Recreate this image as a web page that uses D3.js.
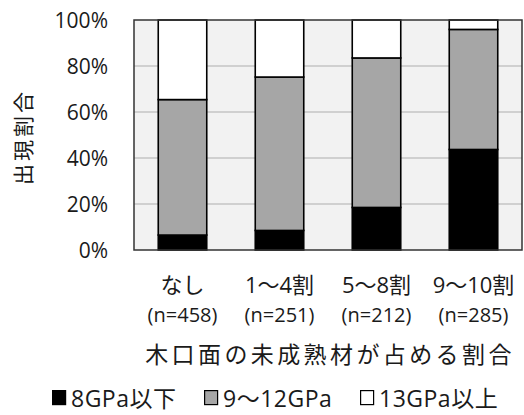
<!DOCTYPE html>
<html>
<head>
<meta charset="utf-8">
<script src="https://cdn.jsdelivr.net/npm/d3@7"></script>
<style>
  html, body { margin: 0; padding: 0; background: #fff; }
  svg { display: block; }
  text { font-family: "Open Sans", "Noto Sans CJK JP", sans-serif; fill: #1a1a1a; }
</style>
</head>
<body>
<svg id="chart" width="524" height="415"></svg>
<script>
// Share (%) of each stiffness class by proportion of juvenile wood on the end face
const categories = ["なし", "1～4割", "5～8割", "9～10割"];
const sampleSizes = ["(n=458)", "(n=251)", "(n=212)", "(n=285)"];
const seriesNames = ["8GPa以下", "9～12GPa", "13GPa以上"];
const below8 = [6.5, 8.5, 18.5, 43.7];
const from9to12 = [58.9, 66.7, 65.0, 52.2];
const above13 = [34.6, 24.8, 16.5, 4.1];
const yTicks = [0, 20, 40, 60, 80, 100];

const colors = ["#000000", "#a6a6a6", "#ffffff"];

const svg = d3.select("#chart");
const margin = { left: 134, right: 2, top: 20, bottom: 165 };
const W = 524, H = 415;
const plotW = W - margin.left - margin.right;
const plotH = H - margin.top - margin.bottom;

const x = d3.scaleBand().domain(categories).range([0, plotW]).paddingInner(0.5).paddingOuter(0.25);
const y = d3.scaleLinear().domain([0, 100]).range([plotH, 0]);

const rows = categories.map((c, i) => ({
  cat: c, s0: below8[i], s1: from9to12[i], s2: above13[i]
}));
const stack = d3.stack().keys(["s0", "s1", "s2"])(rows);

const g = svg.append("g").attr("transform", `translate(${margin.left},${margin.top})`);

// plot background
g.append("rect").attr("x", 0).attr("y", 0).attr("width", plotW).attr("height", plotH)
  .attr("fill", "#f2f2f2");

// horizontal gridlines
g.append("g").selectAll("line").data(yTicks.filter(t => t > 0 && t < 100)).join("line")
  .attr("x1", 0).attr("x2", plotW)
  .attr("y1", d => y(d)).attr("y2", d => y(d))
  .attr("stroke", "#c4c4c4").attr("stroke-width", 1.5);

// stacked bars
g.append("g").selectAll("g").data(stack).join("g")
  .attr("fill", (d, i) => colors[i])
  .selectAll("rect").data(d => d).join("rect")
  .attr("x", d => x(d.data.cat))
  .attr("width", x.bandwidth())
  .attr("y", d => y(d[1]))
  .attr("height", d => y(d[0]) - y(d[1]))
  .attr("stroke", "#000").attr("stroke-width", 1.6);

// plot border
g.append("rect").attr("x", 0).attr("y", 0).attr("width", plotW).attr("height", plotH)
  .attr("fill", "none").attr("stroke", "#333").attr("stroke-width", 1.5);

// y axis tick labels
const yAxis = d3.axisLeft(y).tickValues(yTicks).tickFormat(d => d + "%").tickSize(0).tickPadding(26);
const ya = g.append("g").call(yAxis);
ya.select(".domain").remove();
ya.selectAll("text").attr("font-size", 21).attr("dy", "0.35em")
  .style("font-family", '"Open Sans", sans-serif').attr("fill", "#1a1a1a");

// y axis title
svg.append("text")
  .attr("transform", `translate(31,${margin.top + plotH / 2 + 2}) rotate(-90)`)
  .attr("text-anchor", "middle")
  .attr("font-size", 21)
  .attr("letter-spacing", 3)
  .text("出現割合");

// category labels with sample sizes
const xAxis = d3.axisBottom(x).tickSize(0).tickPadding(0);
const xa = g.append("g").attr("transform", `translate(0,${plotH})`).call(xAxis);
xa.select(".domain").remove();
xa.selectAll("text").remove();
xa.selectAll(".tick").append("text")
  .attr("y", 43).attr("text-anchor", "middle").attr("font-size", 22)
  .text(d => d);
xa.selectAll(".tick").append("text")
  .attr("y", 72).attr("text-anchor", "middle").attr("font-size", 20)
  .text((d, i) => sampleSizes[i]);

// x axis title
svg.append("text")
  .attr("x", margin.left + plotW / 2 + 2).attr("y", 363)
  .attr("text-anchor", "middle").attr("font-size", 23).attr("letter-spacing", 3.4)
  .text("木口面の未成熟材が占める割合");

// legend
const legendX = [52, 204, 360];
const leg = svg.append("g").selectAll("g").data(seriesNames).join("g")
  .attr("transform", (d, i) => `translate(${legendX[i]},390)`);
leg.append("rect").attr("x", 0.6).attr("y", 0.6).attr("width", 13).attr("height", 14)
  .attr("fill", (d, i) => colors[i]).attr("stroke", "#000").attr("stroke-width", 1.2);
leg.append("text").attr("x", 19).attr("y", 17).attr("font-size", 23)
  .attr("letter-spacing", 0.5)
  .text(d => d);
</script>
</body>
</html>
